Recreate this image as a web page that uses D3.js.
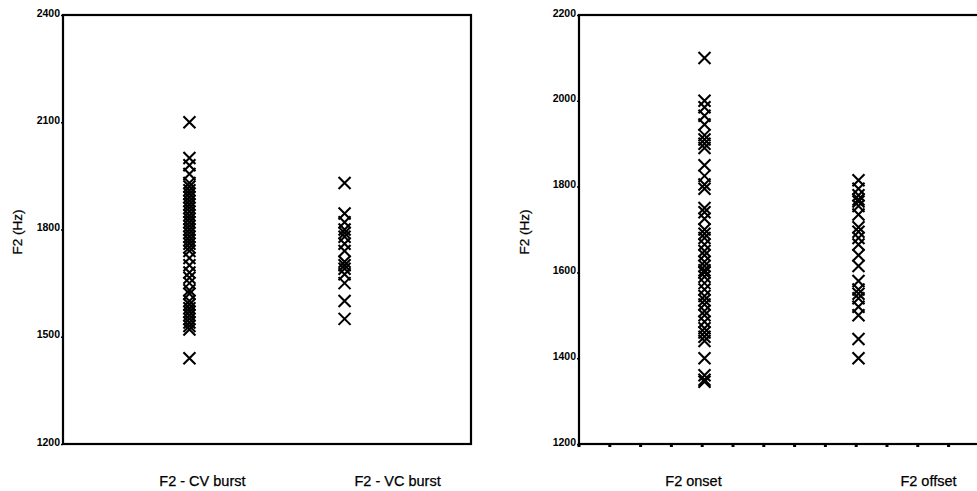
<!DOCTYPE html>
<html><head><meta charset="utf-8">
<script src="https://cdn.jsdelivr.net/npm/d3@7"></script>
<style>body{margin:0;background:#fff}svg{display:block}text{font-family:"Liberation Sans",Arial,sans-serif}</style>
</head><body><svg id="c" width="977" height="491"></svg>
<script>
// Left panel data
const leftCategories = ["F2 - CV burst", "F2 - VC burst"];
const leftTicks = [1200, 1500, 1800, 2100, 2400];
const cvBurst = [2100, 2000, 1980, 1955, 1930, 1920, 1910, 1900, 1890, 1880, 1870, 1860, 1850, 1840, 1830, 1820, 1810, 1800, 1790, 1780, 1770, 1760, 1750, 1740, 1720, 1700, 1680, 1665, 1650, 1630, 1620, 1600, 1590, 1580, 1570, 1560, 1550, 1540, 1530, 1520, 1440];
const vcBurst = [1930, 1845, 1820, 1800, 1790, 1780, 1760, 1740, 1710, 1700, 1690, 1675, 1650, 1600, 1550];
// Right panel data
const rightCategories = ["F2 onset", "F2 offset"];
const rightTicks = [1200, 1400, 1600, 1800, 2000, 2200];
const onset = [2100, 2000, 1985, 1965, 1945, 1920, 1910, 1900, 1890, 1850, 1825, 1805, 1795, 1750, 1740, 1725, 1700, 1690, 1680, 1665, 1650, 1640, 1625, 1615, 1605, 1600, 1590, 1575, 1560, 1545, 1535, 1525, 1510, 1500, 1485, 1470, 1460, 1450, 1440, 1400, 1360, 1350, 1345];
const offset = [1815, 1795, 1780, 1770, 1765, 1755, 1735, 1705, 1695, 1680, 1665, 1640, 1615, 1580, 1560, 1550, 1540, 1520, 1500, 1445, 1400];

const svg = d3.select("#c");
const plotTop = 15, plotBottom = 444;

function panel(cfg){
  const g = svg.append("g");
  const x = d3.scalePoint().domain(cfg.cats).range([cfg.x0, cfg.x1]).padding(0.815);
  const y = d3.scaleLinear().domain([cfg.ticks[0], cfg.ticks[cfg.ticks.length-1]]).range([plotBottom, plotTop]);
  g.append("rect").attr("x", cfg.x0).attr("y", plotTop).attr("width", cfg.x1-cfg.x0).attr("height", plotBottom-plotTop)
    .attr("fill","none").attr("stroke","#000").attr("stroke-width",2.2);
  const ya = d3.axisLeft(y).tickValues(cfg.ticks).tickSize(2).tickPadding(1).tickFormat(d3.format("d"));
  const ag = g.append("g").attr("transform",`translate(${cfg.x0},0)`).call(ya);
  ag.select(".domain").remove();
  ag.selectAll("line").attr("stroke","#000").attr("stroke-width",1.5);
  ag.selectAll("text").attr("font-size",10.5).attr("font-weight","bold").attr("fill","#000").attr("dy","0.1em");
  g.append("text").attr("transform",`translate(${cfg.ylabX},232) rotate(-90)`).attr("text-anchor","middle")
    .attr("font-size",13.5).attr("fill","#000").attr("stroke","#000").attr("stroke-width",0.25).text("F2 (Hz)");
  if(cfg.minorTicks){
    const step = x.step()/5;
    const n = Math.floor((cfg.x1-cfg.x0)/step);
    g.selectAll(".mt").data(d3.range(n+1)).join("rect").attr("class","mt")
      .attr("x", d=>cfg.x0 + d*step - 1.5).attr("y", plotBottom).attr("width",3).attr("height",3).attr("fill","#000");
  }
  const s = 6;
  cfg.series.forEach((vals,i)=>{
    const cx = x(cfg.cats[i]);
    g.selectAll(null).data(vals).join("path")
      .attr("d", v=>{const cy=y(v);return `M${cx-s},${cy-s}L${cx+s},${cy+s}M${cx-s},${cy+s}L${cx+s},${cy-s}`;})
      .attr("stroke","#000").attr("stroke-width",2.1).attr("fill","none");
  });
  cfg.cats.forEach((c,i)=>{
    g.append("text").attr("x", x(c)+cfg.labelDx[i]).attr("y", 486).attr("text-anchor","middle")
      .attr("font-size",14.5).attr("fill","#000").attr("stroke","#000").attr("stroke-width",0.25).text(c);
  });
}

panel({cats:leftCategories, ticks:leftTicks, x0:63, x1:471, series:[cvBurst, vcBurst], ylabX:22, labelDx:[13,53], minorTicks:false});
panel({cats:rightCategories, ticks:rightTicks, x0:579, x1:984, series:[onset, offset], ylabX:529, labelDx:[-11,70], minorTicks:true});
</script></body></html>
